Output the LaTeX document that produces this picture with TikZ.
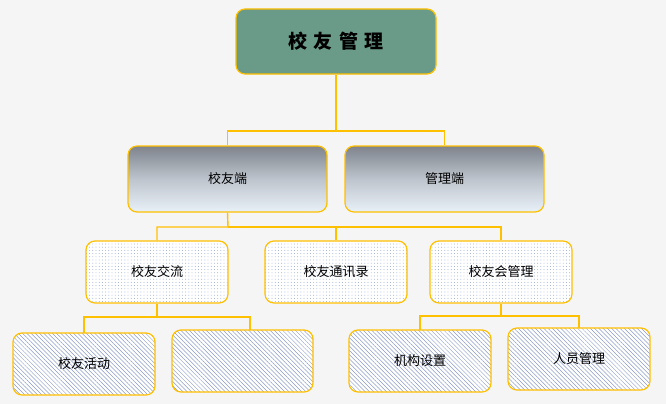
\documentclass[tikz,border=0pt]{standalone}
\usepackage{fontspec}
\newfontfamily\cjk{Noto Sans CJK SC}
\usetikzlibrary{patterns.meta}
\begin{document}
\begin{tikzpicture}[x=1pt,y=-1pt]
\definecolor{topg}{HTML}{6A9A88}
\definecolor{ln}{HTML}{FFC000}
\definecolor{gtop}{HTML}{7E838C}
\definecolor{gbot}{HTML}{E8F0F8}
\definecolor{pat}{HTML}{8C9CC8}
\tikzset{
  box/.style={draw=ln,line width=1.2pt,rounded corners=9pt,font=\cjk\fontsize{13}{13}\selectfont},
  dotbox/.style={box,preaction={fill=white},pattern={Dots[distance=3.2pt,radius=0.45pt]},pattern color=pat},
  hatchbox/.style={box,preaction={fill=white},pattern={Lines[angle=-45,distance=3pt,line width=0.5pt]},pattern color=pat},
  gradbox/.style={box,top color=gtop,bottom color=gbot,middle color=gtop!40!gbot},
  conn/.style={draw=ln,line width=1.4pt}}
\fill[gray!8] (0,0) rectangle (666,404);
\useasboundingbox (0,0) rectangle (666,404);
\node[box,fill=topg,minimum width=200pt,minimum height=65pt,font=\cjk\bfseries\fontsize{19}{19}\selectfont] (top) at (336,41.5) {校\,\,友\,\,管\,\,理};
\node[gradbox,minimum width=199pt,minimum height=66pt] (xy) at (227.5,179) {校友端};
\node[gradbox,minimum width=199pt,minimum height=66pt] (gl) at (444.5,179) {管理端};
\node[dotbox,minimum width=142pt,minimum height=62pt] (jl) at (157,272) {校友交流};
\node[dotbox,minimum width=142pt,minimum height=62pt] (tx) at (336,272) {校友通讯录};
\node[dotbox,minimum width=142pt,minimum height=62pt] (hh) at (501,272) {校友会管理};
\node[hatchbox,minimum width=142pt,minimum height=62pt] (hd) at (84,364) {校友活动};
\node[hatchbox,minimum width=141pt,minimum height=62pt] (bl) at (242.5,361) {};
\node[hatchbox,minimum width=142pt,minimum height=62pt] (jg) at (420,361) {机构设置};
\node[hatchbox,minimum width=142pt,minimum height=62pt] (ry) at (579,359) {人员管理};
\draw[conn] (top.south) -- (336,131) -| (xy.north);
\draw[conn] (336,131) -| (gl.north);
\draw[conn] (xy.south) -- (228,227) -| (jl.north);
\draw[conn] (228,227) -| (hh.north);
\draw[conn] (tx.north) -- (336,227);
\draw[conn] (jl.south) -- (157,317) -| (84,333);
\draw[conn] (157,317) -| (250,330);
\draw[conn] (hh.south) -- (501,316) -| (420,330);
\draw[conn] (501,316) -| (579,328);
\end{tikzpicture}
\end{document}
